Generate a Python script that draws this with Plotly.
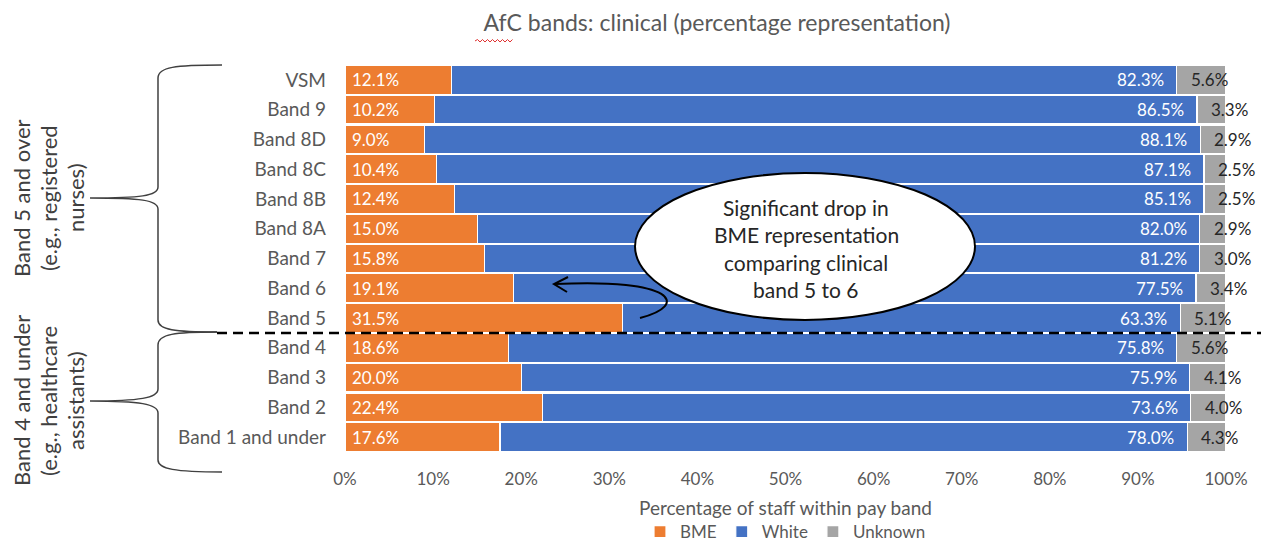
import plotly.graph_objects as go

bands = ["VSM", "Band 9", "Band 8D", "Band 8C", "Band 8B", "Band 8A", "Band 7",
         "Band 6", "Band 5", "Band 4", "Band 3", "Band 2", "Band 1 and under"]
bme = [12.1, 10.2, 9.0, 10.4, 12.4, 15.0, 15.8, 19.1, 31.5, 18.6, 20.0, 22.4, 17.6]
white = [82.3, 86.5, 88.1, 87.1, 85.1, 82.0, 81.2, 77.5, 63.3, 75.8, 75.9, 73.6, 78.0]
unknown = [5.6, 3.3, 2.9, 2.5, 2.5, 2.9, 3.0, 3.4, 5.1, 5.6, 4.1, 4.0, 4.3]
x_ticks = [0, 10, 20, 30, 40, 50, 60, 70, 80, 90, 100]
x_ticktext = [f"{v}%" for v in x_ticks]
x_title = "Percentage of staff within pay band"
group_upper = ["Band 5 and over", "(e.g., registered", "nurses)"]
group_lower = ["Band 4 and under", "(e.g., healthcare", "assistants)"]
callout = ["Significant drop in", "BME representation", "comparing clinical", "band 5 to 6"]

FONT = "Lato"
W, H = 1261, 546
ML, MR, MT, MB = 345, 35, 65, 94
PW, PH = W - ML - MR, H - MT - MB


def px(x):
    return (x - ML) / PW


def py(y):
    return 1 - (y - MT) / PH


fig = go.Figure()
for name, vals, col in [("BME", bme, "#ED7D31"), ("White", white, "#4472C4"),
                        ("Unknown", unknown, "#A5A5A5")]:
    fig.add_trace(go.Bar(y=bands, x=vals, name=name, orientation="h",
                         marker=dict(color=col, line=dict(color="white", width=1.2)),
                         hoverinfo="x+y+name"))

ann = []
for b, w, u, cat in zip(bme, white, unknown, bands):
    ann.append(dict(x=0, y=cat, xref="x", yref="y", text=f"{b:.1f}%", showarrow=False,
                    xanchor="left", xshift=5, font=dict(family=FONT, size=17, color="white")))
    ann.append(dict(x=b + w, y=cat, xref="x", yref="y", text=f"{w:.1f}%", showarrow=False,
                    xanchor="right", xshift=-11, font=dict(family=FONT, size=17, color="white")))
    ann.append(dict(x=b + w, y=cat, xref="x", yref="y", text=f"{u:.1f}%", showarrow=False,
                    xanchor="left", xshift=12, font=dict(family=FONT, size=17, color="#262626")))

# x-axis title
ann.append(dict(x=0.5, y=py(507), xref="paper", yref="paper", showarrow=False, text=x_title,
                xanchor="center", yanchor="middle",
                font=dict(family=FONT, size=19, color="#595959")))

# group labels (rotated, one annotation per line)
for lines, cy in ((group_upper, 198), (group_lower, 401)):
    for i, line in enumerate(lines):
        ann.append(dict(x=px(21 + 27 * i), y=py(cy), xref="paper", yref="paper", textangle=-90,
                        showarrow=False, text=line, xanchor="center", yanchor="middle",
                        font=dict(family=FONT, size=22, color="#404040")))

# callout text
for i, line in enumerate(callout):
    ann.append(dict(x=px(806), y=py(207 + 27.5 * i), xref="paper", yref="paper", showarrow=False,
                    text=line, xanchor="center", yanchor="middle",
                    font=dict(family=FONT, size=21, color="#262626")))


def path(pts):
    s = ""
    for p in pts:
        if isinstance(p, str):
            s += " " + p
        else:
            s += f" {px(p[0]):.5f},{py(p[1]):.5f}"
    return s.strip()


shapes = []
brace_up = path(["M", (222, 65), "C", (175, 65), (158, 67), (158, 78), "L", (158, 187),
                 "C", (158, 196), (140, 198), (90, 198), "C", (140, 198), (158, 200), (158, 209),
                 "L", (158, 320), "C", (158, 330), (175, 332), (217, 332)])
brace_lo = path(["M", (217, 332), "C", (175, 332), (158, 334), (158, 345), "L", (158, 389),
                 "C", (158, 398), (140, 401), (90, 401), "C", (140, 401), (158, 404), (158, 413),
                 "L", (158, 460), "C", (158, 469), (175, 472), (222, 472)])
for pth in (brace_up, brace_lo):
    shapes.append(dict(type="path", path=pth, xref="paper", yref="paper",
                       line=dict(color="#404040", width=1.5)))

shapes.append(dict(type="line", xref="paper", yref="y", x0=px(217), x1=px(1261), y0=8.5, y1=8.5,
                   line=dict(color="black", width=2.5, dash="10px,6px")))

shapes.append(dict(type="circle", xref="paper", yref="paper", x0=px(635), x1=px(975),
                   y0=py(320), y1=py(173), fillcolor="white", line=dict(color="black", width=2),
                   layer="above"))

arrow = path(["M", (640, 318), "C", (690, 305), (675, 278), (555, 284)])
shapes.append(dict(type="path", path=arrow, xref="paper", yref="paper",
                   line=dict(color="black", width=2)))
head = path(["M", (568, 277), "L", (554, 284), "L", (567, 292)])
shapes.append(dict(type="path", path=head, xref="paper", yref="paper",
                   line=dict(color="black", width=2)))

# spell-check squiggle under "AfC" in the title
sq = ["M", (475, 41)]
xx = 475
up = True
while xx < 512:
    xx += 2.5
    sq += ["L", (xx, 39.5 if up else 42)]
    up = not up
shapes.append(dict(type="path", path=path(sq), xref="paper", yref="paper",
                   line=dict(color="#E03030", width=1)))

fig.update_layout(
    barmode="stack",
    bargap=0.03,
    width=W, height=H,
    margin=dict(l=ML, r=MR, t=MT, b=MB, pad=0),
    paper_bgcolor="white", plot_bgcolor="white",
    font=dict(family=FONT, color="#595959"),
    title=dict(text="AfC bands: clinical (percentage representation)", x=717 / W, xanchor="center",
               xref="container", y=1 - 23 / H, yanchor="middle",
               font=dict(family=FONT, size=23, color="#595959")),
    xaxis=dict(range=[0, 100], tickmode="array", tickvals=x_ticks, ticktext=x_ticktext,
               showgrid=False, zeroline=False, ticks="", ticklabelstandoff=15, automargin=False,
               tickfont=dict(family=FONT, size=17, color="#595959")),
    yaxis=dict(categoryorder="array", categoryarray=bands, autorange="reversed",
               showgrid=False, ticks="", ticklabelstandoff=18, automargin=False,
               tickfont=dict(family=FONT, size=19, color="#595959")),
    legend=dict(orientation="h", x=0.5, xanchor="center", y=14 / H, yref="container",
                yanchor="middle", font=dict(family=FONT, size=17, color="#595959"),
                traceorder="normal"),
    annotations=ann,
    shapes=shapes,
)

fig.write_html("out.html", config={"displayModeBar": False},
               post_script="document.body.style.margin='0';")
